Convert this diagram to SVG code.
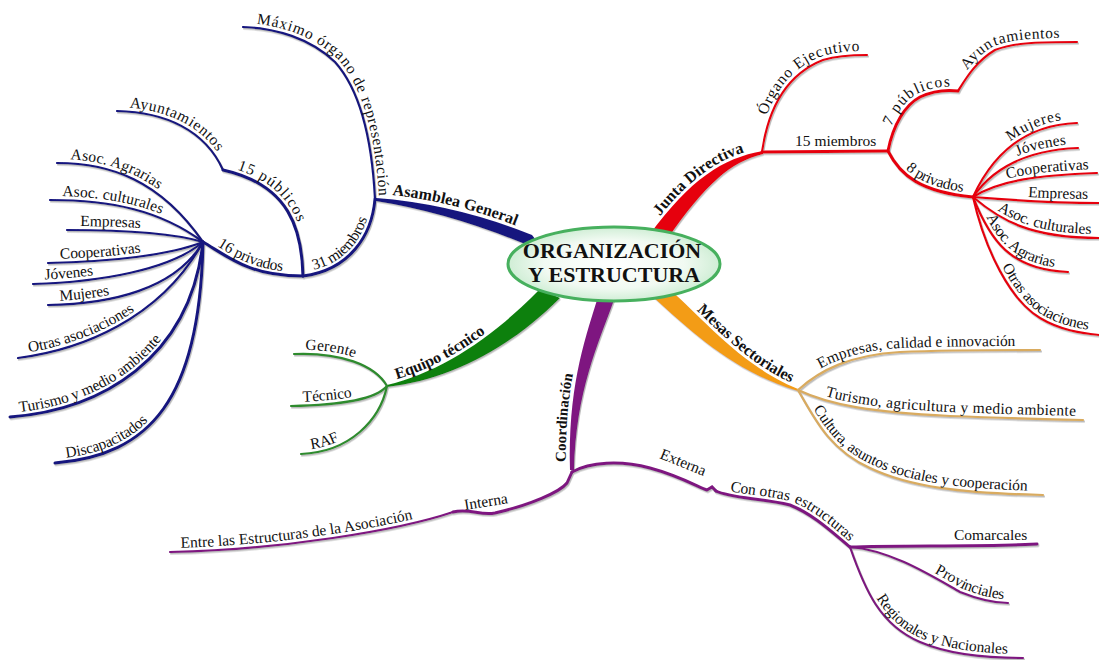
<svg xmlns="http://www.w3.org/2000/svg" xmlns:xlink="http://www.w3.org/1999/xlink" width="1099" height="660" viewBox="0 0 1099 660">
<style>
text{font-family:"Liberation Serif","Times New Roman",serif;font-size:15.5px;fill:#111;}
.b{font-weight:bold;font-size:16px;}
.ln{fill:none;stroke-linecap:round;}
.nv{stroke:#14147e;}
.rd{stroke:#e60010;}
.gr{stroke:#2e8b2e;}
.pu{stroke:#7e1680;}
.og{stroke:#d9ab5f;}
.w3{stroke-width:3;}
.w2{stroke-width:2.2;}
</style>
<defs>
<filter id="sh" x="-5%" y="-5%" width="110%" height="110%"><feDropShadow dx="1" dy="1.5" stdDeviation="0.7" flood-color="#777" flood-opacity="0.5"/></filter>
<radialGradient id="eg" cx="50%" cy="50%" r="55%"><stop offset="0" stop-color="#ffffff"/><stop offset="0.6" stop-color="#f1faf2"/><stop offset="1" stop-color="#c6eacd"/></radialGradient>
<path id="t-asam" d="M380,197 Q455,203 528,234"/>
<path id="t-junta" d="M650,234 C690,180 722,158 763,151"/>
<path id="t-mesas" d="M668,288 C705,320 740,365 798,389"/>
<path id="t-equipo" d="M387,385 C440,372 490,340 540,289"/>
<path id="t-coord" d="M570,470 C568,390 583,345 597,300"/>
</defs>

<g id="connectors" filter="url(#sh)">
<path fill="#14147e" d="M376,198 Q455,204 532,235 L546,253 Q458,214 376,201 Z"/>
<path fill="#e60010" d="M650,234 C690,180 722,158 763,151 L763,154 C730,162 705,185 668,238 Z"/>
<path fill="#f39c12" d="M668,288 C705,320 740,365 798,389 L798,391 C735,372 695,335 652,296 Z"/>
<path fill="#118011" d="M387,385 C440,372 490,340 540,289 L560,298 C510,348 450,380 387,387 Z"/>
<path fill="#7e1680" d="M570,470 C568,390 583,345 597,300 L614,300 C598,345 576,390 574,470 Z"/>
<path id="c-max" class="ln nv w2" d="M243,27 C275,28 310,38 335,62 C360,90 372,140 375,199"/>
<path id="c-31" class="ln nv w3" d="M303,276 C350,270 372,235 375,199"/>
<path id="c-15p" class="ln nv w3" d="M223,170 C290,185 302,230 303,276"/>
<path id="c-ayL" class="ln nv w2" d="M117,111 C165,112 205,130 223,170"/>
<path id="c-16p" class="ln nv w3" d="M203,242 C230,258 250,276 303,276"/>
<path id="c-lAgr" class="ln nv w2" d="M57,163 C110,163 160,180 203,242"/>
<path id="c-lCul" class="ln nv w2" d="M50,200 C110,200 160,210 203,242"/>
<path id="c-lEmp" class="ln nv w2" d="M67,230 C120,230 170,232 203,242"/>
<path id="c-lCoo" class="ln nv w2" d="M48,263 C110,262 170,255 203,242"/>
<path id="c-lJov" class="ln nv w2" d="M33,284 C100,282 170,270 203,242"/>
<path id="c-lMuj" class="ln nv w2" d="M48,305 C110,304 175,290 203,242"/>
<path id="c-lOtr" class="ln nv w2" d="M18,358 C80,350 160,320 203,242"/>
<path id="c-lTur" class="ln nv w3" d="M10,417 C100,410 190,360 203,242"/>
<path id="c-lDis" class="ln nv w3" d="M55,463 C150,455 200,400 203,242"/>
<path id="c-org" class="ln rd w2" d="M762,152 C768,110 785,75 823,60 C840,55 855,55 867,55"/>
<path id="c-15m" class="ln rd w3" d="M762,152 L888,151"/>
<path id="c-7p" class="ln rd w3" d="M888,151 C893,125 905,105 920,97 C935,90 950,90 958,91"/>
<path id="c-ayR" class="ln rd w2" d="M958,91 C965,80 975,62 995,50 C1015,42 1045,42 1077,42"/>
<path id="c-8p" class="ln rd w3" d="M888,151 C900,175 920,192 973,197"/>
<path id="c-rMuj" class="ln rd w2" d="M973,197 C990,160 1020,125 1077,123"/>
<path id="c-rJov" class="ln rd w2" d="M973,197 C995,165 1030,150 1078,148"/>
<path id="c-rCoo" class="ln rd w2" d="M973,197 C1000,180 1040,175 1097,173"/>
<path id="c-rEmp" class="ln rd w2" d="M973,197 C1010,200 1050,203 1099,203"/>
<path id="c-rCul" class="ln rd w2" d="M973,197 C1000,220 1030,238 1099,238"/>
<path id="c-rAgr" class="ln rd w2" d="M973,197 C990,240 1010,270 1068,272"/>
<path id="c-rOtr" class="ln rd w2" d="M973,197 C985,250 1010,300 1040,318 C1060,330 1080,333 1099,335"/>
<path id="c-mEmp" class="ln og w2" d="M798,390 C820,370 850,355 900,352 C950,350 1000,350 1040,350"/>
<path id="c-mTur" class="ln og w2" d="M798,390 C830,405 870,412 950,416 C1000,418 1040,419 1083,420"/>
<path id="c-mCul" class="ln og w2" d="M798,390 C815,420 830,450 870,468 C910,487 960,493 1043,495"/>
<path id="c-ger" class="ln gr w2" d="M294,354 C340,352 375,365 387,386"/>
<path id="c-tec" class="ln gr w2" d="M291,406 C340,405 375,400 387,386"/>
<path id="c-raf" class="ln gr w2" d="M301,454 C350,452 380,420 387,386"/>
<path id="c-entre" class="ln pu w2" d="M170,552 C280,550 400,530 453,512"/>
<path id="c-int" class="ln pu w3" d="M453,512 C470,508 480,516 495,513 C530,505 560,492 567,483 L572,472"/>
<path id="c-ext" class="ln pu w3" d="M572,472 C590,462 620,460 650,468 C680,476 700,488 707,490 L712,487 L716,491"/>
<path id="c-con" class="ln pu w3" d="M716,491 C730,498 760,498 790,505 C815,515 835,535 850,547"/>
<path id="c-com" class="ln pu w3" d="M850,547 C900,545 980,547 1037,544"/>
<path id="c-pro" class="ln pu w2" d="M850,547 C890,550 930,575 960,592 C980,600 995,603 1008,603"/>
<path id="c-reg" class="ln pu w2" d="M850,547 C865,590 880,625 920,642 C950,655 990,658 1023,658"/>
</g>

<g id="n-center">
<ellipse cx="614" cy="264" rx="106" ry="37" fill="url(#eg)" stroke="#47b05e" stroke-width="3"/>
<text x="612" y="258" text-anchor="middle" style="font-weight:bold;font-size:22px">ORGANIZACIÓN</text>
<text x="614" y="282" text-anchor="middle" style="font-weight:bold;font-size:22px">Y ESTRUCTURA</text>
</g>

<g id="n-asamblea"><text class="b" dy="-3"><textPath href="#t-asam" startOffset="12">Asamblea General</textPath></text></g>
<g id="n-maximo"><text dy="-4" letter-spacing="0.6"><textPath href="#c-max" startOffset="13">Máximo órgano de representación</textPath></text></g>
<g id="n-31"><text dy="-4"><textPath href="#c-31" startOffset="12">31 miembros</textPath></text></g>
<g id="n-15p"><text dy="-4" letter-spacing="0.8"><textPath href="#c-15p" startOffset="13">15 públicos</textPath></text></g>
<g id="n-ayL"><text dy="-4" letter-spacing="0.4"><textPath href="#c-ayL" startOffset="12">Ayuntamientos</textPath></text></g>
<g id="n-16p"><text dy="-4"><textPath href="#c-16p" startOffset="14">16 privados</textPath></text></g>
<g id="n-lAgr"><text dy="-4"><textPath href="#c-lAgr" startOffset="13">Asoc. Agrarias</textPath></text></g>
<g id="n-lCul"><text dy="-4"><textPath href="#c-lCul" startOffset="12">Asoc. culturales</textPath></text></g>
<g id="n-lEmp"><text dy="-4"><textPath href="#c-lEmp" startOffset="13">Empresas</textPath></text></g>
<g id="n-lCoo"><text dy="-4"><textPath href="#c-lCoo" startOffset="12">Cooperativas</textPath></text></g>
<g id="n-lJov"><text dy="-4"><textPath href="#c-lJov" startOffset="12">Jóvenes</textPath></text></g>
<g id="n-lMuj"><text dy="-4"><textPath href="#c-lMuj" startOffset="12">Mujeres</textPath></text></g>
<g id="n-lOtr"><text dy="-4"><textPath href="#c-lOtr" startOffset="12">Otras asociaciones</textPath></text></g>
<g id="n-lTur"><text dy="-4"><textPath href="#c-lTur" startOffset="10">Turismo y medio ambiente</textPath></text></g>
<g id="n-lDis"><text dy="-4"><textPath href="#c-lDis" startOffset="12">Discapacitados</textPath></text></g>

<g id="n-junta"><text class="b" dy="-3"><textPath href="#t-junta" startOffset="20">Junta Directiva</textPath></text></g>
<g id="n-org"><text dy="-4" letter-spacing="0.5"><textPath href="#c-org" startOffset="36">Órgano Ejecutivo</textPath></text></g>
<g id="n-15m"><text x="795" y="146">15 miembros</text></g>
<g id="n-7p"><text dy="-4" letter-spacing="0.8"><textPath href="#c-7p" startOffset="24">7 públicos</textPath></text></g>
<g id="n-ayR"><text dy="-4" letter-spacing="0.5"><textPath href="#c-ayR" startOffset="22">Ayuntamientos</textPath></text></g>
<g id="n-8p"><text dy="-4"><textPath href="#c-8p" startOffset="26">8 privados</textPath></text></g>
<g id="n-rMuj"><text dy="-4" letter-spacing="0.6"><textPath href="#c-rMuj" startOffset="66">Mujeres</textPath></text></g>
<g id="n-rJov"><text dy="-4"><textPath href="#c-rJov" startOffset="60">Jóvenes</textPath></text></g>
<g id="n-rCoo"><text dy="-4"><textPath href="#c-rCoo" startOffset="38">Cooperativas</textPath></text></g>
<g id="n-rEmp"><text dy="-4"><textPath href="#c-rEmp" startOffset="55">Empresas</textPath></text></g>
<g id="n-rCul"><text dy="-4"><textPath href="#c-rCul" startOffset="28">Asoc. culturales</textPath></text></g>
<g id="n-rAgr"><text dy="-4"><textPath href="#c-rAgr" startOffset="24">Asoc. Agrarias</textPath></text></g>
<g id="n-rOtr"><text dy="-4"><textPath href="#c-rOtr" startOffset="76">Otras asociaciones</textPath></text></g>

<g id="n-mesas"><text class="b" dy="-3"><textPath href="#t-mesas" startOffset="36">Mesas Sectoriales</textPath></text></g>
<g id="n-mEmp"><text dy="-4"><textPath href="#c-mEmp" startOffset="30">Empresas, calidad e innovación</textPath></text></g>
<g id="n-mTur"><text dy="-4" letter-spacing="0.3"><textPath href="#c-mTur" startOffset="28">Turismo, agricultura y medio ambiente</textPath></text></g>
<g id="n-mCul"><text dy="-4"><textPath href="#c-mCul" startOffset="24">Cultura, asuntos sociales y cooperación</textPath></text></g>

<g id="n-equipo"><text class="b" dy="-3"><textPath href="#t-equipo" startOffset="11">Equipo técnico</textPath></text></g>
<g id="n-ger"><text dy="-4"><textPath href="#c-ger" startOffset="11">Gerente</textPath></text></g>
<g id="n-tec"><text dy="-4"><textPath href="#c-tec" startOffset="12">Técnico</textPath></text></g>
<g id="n-raf"><text dy="-4"><textPath href="#c-raf" startOffset="11">RAF</textPath></text></g>

<g id="n-coord"><text class="b" dy="-4" style="font-size:15px"><textPath href="#t-coord" startOffset="8">Coordinación</textPath></text></g>
<g id="n-int"><text transform="translate(465,510) rotate(-9)">Interna</text></g>
<g id="n-entre"><text dy="-4"><textPath href="#c-entre" startOffset="11">Entre las Estructuras de la Asociación</textPath></text></g>
<g id="n-ext"><text transform="translate(659,458) rotate(22)">Externa</text></g>
<g id="n-con"><text dy="-4"><textPath href="#c-con" startOffset="14">Con otras estructuras</textPath></text></g>
<g id="n-com"><text x="954" y="540">Comarcales</text></g>
<g id="n-pro"><text dy="-4"><textPath href="#c-pro" startOffset="88">Provinciales</textPath></text></g>
<g id="n-reg"><text dy="-4"><textPath href="#c-reg" startOffset="58">Regionales y Nacionales</textPath></text></g>
</svg>
